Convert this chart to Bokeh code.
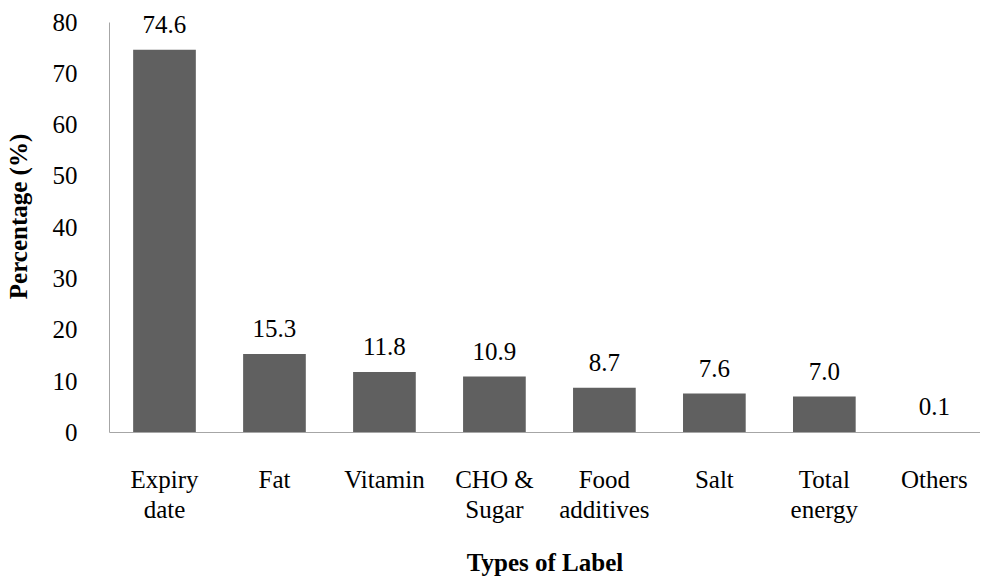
from bokeh.plotting import figure
from bokeh.models import ColumnDataSource, Range1d, FixedTicker, LabelSet
from bokeh.embed import file_html
from bokeh.resources import INLINE

categories = ["Expiry\ndate", "Fat", "Vitamin", "CHO &\nSugar", "Food\nadditives", "Salt", "Total\nenergy", "Others"]
values = [74.6, 15.3, 11.8, 10.9, 8.7, 7.6, 7.0, 0.1]
value_labels = ["74.6", "15.3", "11.8", "10.9", "8.7", "7.6", "7.0", "0.1"]
y_ticks = [0, 10, 20, 30, 40, 50, 60, 70, 80]

FONT = "Liberation Serif"
FS = "25px"

xpos = [i + 0.5 for i in range(len(categories))]
src = ColumnDataSource(dict(x=xpos, top=values, lab=value_labels))

p = figure(x_range=Range1d(0, 7.92), y_range=Range1d(0, 84.2), width=980, height=578,
           output_backend="svg", toolbar_location=None,
           min_border_left=109, min_border_right=0, min_border_top=0, min_border_bottom=137)
p.vbar(x="x", top="top", width=0.57, source=src, fill_color="#606060", line_color=None)

labels = LabelSet(x="x", y="top", text="lab", source=src, text_align="center",
                  text_baseline="alphabetic", y_offset=17, text_font=FONT,
                  text_font_size=FS, text_color="#000000")
p.add_layout(labels)

p.outline_line_color = None
p.xgrid.grid_line_color = None
p.ygrid.grid_line_color = None

p.yaxis.ticker = FixedTicker(ticks=y_ticks)
p.yaxis.bounds = (0, 80)
p.yaxis.axis_line_color = "#a6a6a6"
p.yaxis.major_tick_line_color = None
p.yaxis.minor_tick_line_color = None
p.yaxis.major_label_standoff = 26
p.yaxis.major_label_text_font = FONT
p.yaxis.major_label_text_font_size = FS
p.yaxis.major_label_text_color = "#000000"
p.yaxis.axis_label = "Percentage (%)"
p.yaxis.axis_label_text_font = FONT
p.yaxis.axis_label_text_font_style = "bold"
p.yaxis.axis_label_text_font_size = FS
p.yaxis.axis_label_text_color = "#000000"
p.yaxis.axis_label_standoff = 18

p.xaxis.ticker = FixedTicker(ticks=xpos)
p.xaxis.major_label_overrides = {x: c for x, c in zip(xpos, categories)}
p.xaxis.axis_line_color = "#a6a6a6"
p.xaxis.major_tick_line_color = None
p.xaxis.minor_tick_line_color = None
p.xaxis.major_label_standoff = 27
p.xaxis.major_label_text_font = FONT
p.xaxis.major_label_text_font_size = FS
p.xaxis.major_label_text_line_height = 1.12
p.xaxis.major_label_text_color = "#000000"
p.xaxis.axis_label = "Types of Label"
p.xaxis.axis_label_text_font = FONT
p.xaxis.axis_label_text_font_style = "bold"
p.xaxis.axis_label_text_font_size = FS
p.xaxis.axis_label_text_color = "#000000"
p.xaxis.axis_label_standoff = 23

open("out.html", "w").write(file_html(p, INLINE))
